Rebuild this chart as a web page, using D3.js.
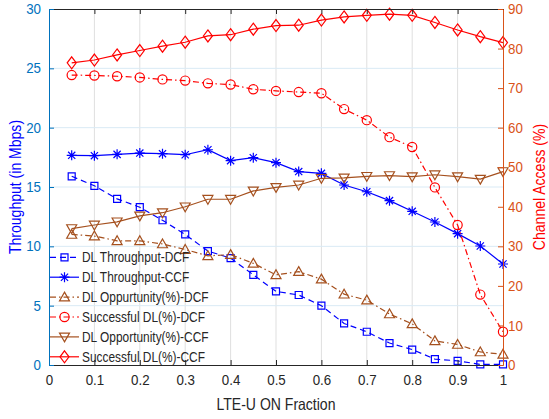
<!DOCTYPE html>
<html><head><meta charset="utf-8">
<script src="https://cdn.jsdelivr.net/npm/d3@7"></script>
<style>
body{margin:0;background:#fff;}
text{font-family:"Liberation Sans",Arial,Helvetica,sans-serif;}
</style></head>
<body><svg id="c" width="549" height="419"></svg>
<script>
const xVals = [0.05,0.1,0.15,0.2,0.25,0.3,0.35,0.4,0.45,0.5,0.55,0.6,0.65,0.7,0.75,0.8,0.85,0.9,0.95,1.0];
const dlThroughputDCF = [15.9,15.1,14.0,13.3,12.2,11.0,9.6,9.0,7.6,6.2,5.9,5.0,3.5,2.8,1.85,1.3,0.5,0.35,0.05,0.05];
const dlThroughputCCF = [17.67,17.64,17.75,17.86,17.81,17.72,18.14,17.22,17.47,17.05,16.3,16.15,15.17,14.6,13.85,12.95,12.05,11.07,10.03,8.51];
const dlOppDCF = [33.0,32.6,31.4,31.4,30.6,29.2,27.6,27.9,25.7,22.8,23.6,21.7,17.9,16.4,12.9,10.4,6.1,5.2,3.3,2.7];
const succDCF = [73.3,73.2,73.0,72.7,72.2,71.9,71.2,70.9,69.7,69.3,69.0,68.7,64.7,61.9,57.6,55.1,44.9,35.4,17.8,8.4];
const dlOppCCF = [34.5,35.4,36.2,37.7,38.5,40.0,41.9,41.9,44.0,44.9,45.5,47.2,47.3,47.7,47.9,47.6,48.1,47.6,47.0,48.9];
const succCCF = [76.4,77.1,78.4,79.5,80.6,81.6,83.2,83.5,84.9,85.8,85.9,87.2,88.0,88.4,88.7,88.4,86.6,84.7,83.0,81.5];
const xTicks = [0,0.1,0.2,0.3,0.4,0.5,0.6,0.7,0.8,0.9,1];
const yLeftTicks = [0,5,10,15,20,25,30];
const yRightTicks = [0,10,20,30,40,50,60,70,80,90];
const seriesNames = ["DL Throughput-DCF","DL Throughput-CCF","DL Oppurtunity(%)-DCF","Successful DL(%)-DCF","DL Opportunity(%)-CCF","Successful DL(%)-CCF"];

const svg = d3.select("#c");
const L=49,R=503,T=9,B=365;
const x = d3.scaleLinear().domain([0,1]).range([L,R]);
const yL = d3.scaleLinear().domain([0,30]).range([B,T]);
const yR = d3.scaleLinear().domain([0,90]).range([B,T]);

const BLUE="#0000FF", BROWN="#A5501E", RED="#FF0000";
const AXL="#0072BD", AXR="#D95319", AXX="#262626";

// grid
svg.append("g").selectAll("line").data(xTicks.slice(1,-1)).join("line")
  .attr("x1",d=>x(d)).attr("x2",d=>x(d)).attr("y1",T).attr("y2",B)
  .attr("stroke","#DFDFDF").attr("stroke-width",1);
svg.append("g").selectAll("line").data(yLeftTicks.slice(1,-1)).join("line")
  .attr("x1",L).attr("x2",R).attr("y1",d=>yL(d)).attr("y2",d=>yL(d))
  .attr("stroke","#D9EAF5").attr("stroke-width",1);

// marker paths
function sym(type){
  switch(type){
    case "square": return "M-3.5,-3.5H3.5V3.5H-3.5Z";
    case "circle": return "M4.6,0A4.6,4.6 0 1,1 -4.6,0A4.6,4.6 0 1,1 4.6,0Z";
    case "diamond": return "M0,-6L4.5,0L0,6L-4.5,0Z";
    case "tup": return "M0,-5L5,3.8H-5Z";
    case "tdown": return "M0,5L5,-3.8H-5Z";
    case "star": return "M-5,0H5M0,-5V5M-3.6,-3.6L3.6,3.6M-3.6,3.6L3.6,-3.6";
  }
}
const series = [
  {name:seriesNames[0], data:dlThroughputDCF, y:yL, color:BLUE, dash:"6,4", m:"square"},
  {name:seriesNames[1], data:dlThroughputCCF, y:yL, color:BLUE, dash:null, m:"star"},
  {name:seriesNames[2], data:dlOppDCF, y:yR, color:BROWN, dash:"6,3,1.5,3", m:"tup"},
  {name:seriesNames[3], data:succDCF, y:yR, color:RED, dash:"6,3,1.5,3", m:"circle"},
  {name:seriesNames[4], data:dlOppCCF, y:yR, color:BROWN, dash:null, m:"tdown"},
  {name:seriesNames[5], data:succCCF, y:yR, color:RED, dash:null, m:"diamond"}
];
series.forEach(s=>{
  const line=d3.line().x((d,j)=>x(xVals[j])).y(d=>s.y(d));
  const g=svg.append("g");
  g.append("path").datum(s.data).attr("d",line).attr("fill","none")
    .attr("stroke",s.color).attr("stroke-width",1.2)
    .attr("stroke-dasharray",s.dash);
  g.selectAll("path.mk").data(s.data).join("path").attr("class","mk")
    .attr("transform",(d,j)=>`translate(${x(xVals[j])},${s.y(d)})`)
    .attr("d",sym(s.m)).attr("fill","none").attr("stroke",s.color).attr("stroke-width",1.2);
});

// axes
const tickLen=5;
const gx=svg.append("g").attr("transform",`translate(0,${B})`)
  .call(d3.axisBottom(x).tickValues(xTicks).tickSizeInner(-tickLen).tickSizeOuter(0).tickPadding(10)
    .tickFormat(d=>d===0?"0":(d===1?"1":d3.format(".1f")(d))));
gx.select(".domain").attr("stroke",AXX);
gx.selectAll(".tick line").attr("stroke",AXX);
gx.selectAll("text").attr("fill",AXX).attr("font-size",14.5).attr("class","tk");
const gt=svg.append("g").attr("transform",`translate(0,${T})`)
  .call(d3.axisTop(x).tickValues(xTicks).tickSizeInner(-tickLen).tickSizeOuter(0).tickFormat(""));
gt.select(".domain").attr("stroke",AXX);
gt.selectAll(".tick line").attr("stroke",AXX);
const gl=svg.append("g").attr("transform",`translate(${L},0)`)
  .call(d3.axisLeft(yL).tickValues(yLeftTicks).tickSizeInner(-tickLen).tickSizeOuter(0).tickPadding(8));
gl.select(".domain").attr("stroke",AXL);
gl.selectAll(".tick line").attr("stroke",AXL);
gl.selectAll("text").attr("fill",AXL).attr("font-size",14.5).attr("class","tk");
const gr=svg.append("g").attr("transform",`translate(${R},0)`)
  .call(d3.axisRight(yR).tickValues(yRightTicks).tickSizeInner(-tickLen).tickSizeOuter(0).tickPadding(5));
gr.select(".domain").attr("stroke",AXR);
gr.selectAll(".tick line").attr("stroke",AXR);
gr.selectAll("text").attr("fill",AXR).attr("font-size",14.5).attr("class","tk");
svg.selectAll(".tick text").attr("font-family",'"Liberation Sans",Arial,sans-serif');

// axis labels
svg.append("text").attr("class","cond").attr("x",(L+R)/2).attr("y",410).attr("text-anchor","middle")
  .attr("font-size",16.5).attr("fill",AXX).text("LTE-U ON Fraction");
svg.append("text").attr("class","cond").attr("transform",`translate(21,${(T+B)/2}) rotate(-90)`).attr("text-anchor","middle")
  .attr("font-size",16.5).attr("fill",BLUE).text("Throughput (in Mbps)");
svg.append("text").attr("class","cond").attr("transform",`translate(545,${(T+B)/2}) rotate(-90)`).attr("text-anchor","middle")
  .attr("font-size",16.5).attr("fill",RED).text("Channel Access (%)");

// legend
const leg=svg.append("g");
series.forEach((s,i)=>{
  const cy=257.3+i*19.9;
  leg.append("line").attr("x1",50).attr("x2",79).attr("y1",cy).attr("y2",cy)
    .attr("stroke",s.color).attr("stroke-width",1.2).attr("stroke-dasharray",s.dash);
  leg.append("path").attr("transform",`translate(64.5,${cy})`).attr("d",sym(s.m))
    .attr("fill","none").attr("stroke",s.color).attr("stroke-width",1.2);
  leg.append("text").attr("class","cond").attr("x",82).attr("y",cy+5).attr("font-size",14)
    .attr("fill",AXX).text(s.name);
});

// condense text like the reference rendering
function condense(sel,f){
  sel.each(function(){
    const w=this.getComputedTextLength();
    if(w>0){ d3.select(this).attr("textLength",w*f).attr("lengthAdjust","spacingAndGlyphs"); }
  });
}
condense(svg.selectAll("text.cond"),0.85);
condense(svg.selectAll("text.tk"),0.92);
</script></body></html>
